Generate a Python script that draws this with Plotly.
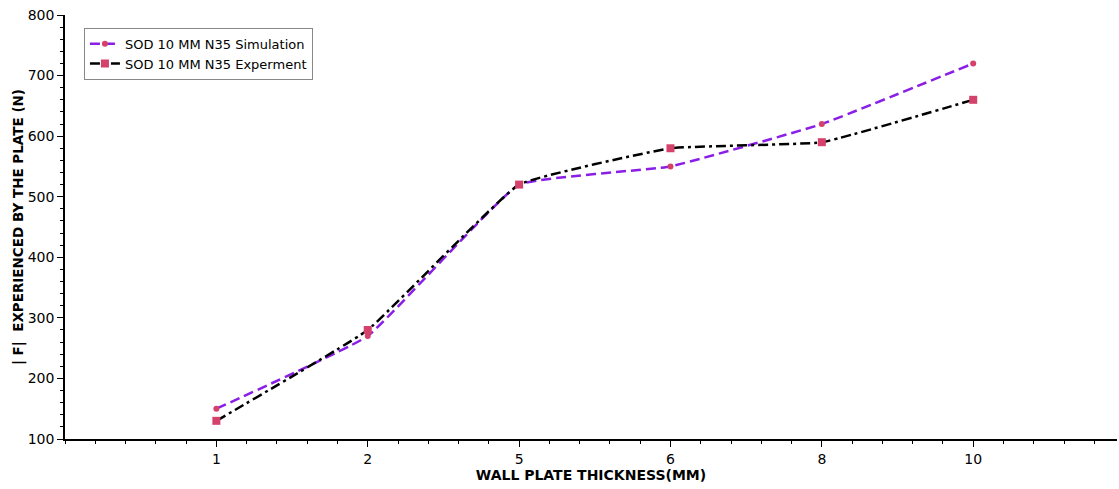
import plotly.graph_objects as go

thickness = ["1", "2", "5", "6", "8", "10"]
sim_force = [150, 270, 520, 550, 620, 720]
exp_force = [130, 280, 520, 580, 590, 660]

xpos = list(range(len(thickness)))
mcol = "#d4426c"

fig = go.Figure()
fig.add_trace(go.Scatter(
    x=xpos, y=sim_force, mode="lines+markers", name="SOD 10 MM N35 Simulation",
    line=dict(color="#8a1ee6", width=2.5, dash="10px,5px", shape="spline", smoothing=0.3),
    marker=dict(symbol="circle", size=6, color=mcol)))
fig.add_trace(go.Scatter(
    x=xpos, y=exp_force, mode="lines+markers", name="SOD 10 MM N35 Experment",
    line=dict(color="black", width=2.5, dash="10px,4px,3px,4px", shape="spline", smoothing=0.3),
    marker=dict(symbol="square", size=8, color=mcol)))

font = "Tahoma, DejaVu Sans, Verdana, sans-serif"
fig.update_layout(
    width=1119, height=489, margin=dict(l=65, r=2, t=15, b=50),
    paper_bgcolor="white", plot_bgcolor="white",
    font=dict(family=font, size=14, color="black"),
    showlegend=True,
    legend=dict(x=0.018, y=0.97, xanchor="left", yanchor="top",
                bgcolor="white", bordercolor="#888888", borderwidth=1,
                font=dict(size=13), tracegroupgap=0, itemwidth=30),
    xaxis=dict(range=[-1, 5.95], tickvals=xpos, ticktext=thickness,
               showgrid=False, zeroline=False, showline=True, linecolor="black",
               linewidth=1.5, ticks="outside", ticklen=6, tickcolor="black",
               minor=dict(dtick=0.2, tick0=-1, ticks="outside", ticklen=3, tickcolor="black"),
               title=dict(text="<b>WALL PLATE THICKNESS(MM)</b>", font=dict(size=14), standoff=4)),
    yaxis=dict(range=[100, 800], dtick=100, showgrid=False, zeroline=False,
               showline=True, linecolor="black", linewidth=1.5,
               ticks="outside", ticklen=6, tickcolor="black",
               minor=dict(dtick=20, ticks="outside", ticklen=3, tickcolor="black"),
               title=dict(text="<b>| F|  EXPERIENCED BY THE PLATE (N)</b>", font=dict(size=13.5), standoff=1)),
)
fig.write_html("out.html")
